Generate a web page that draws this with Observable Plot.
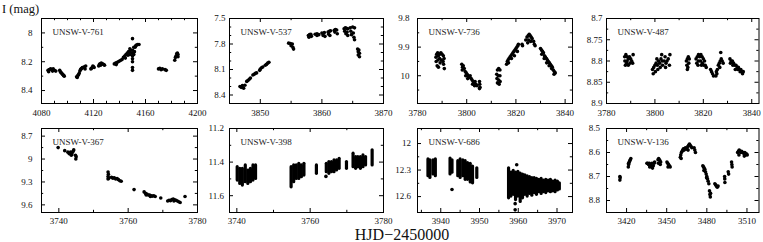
<!DOCTYPE html>
<html><head><meta charset="utf-8">
<script src="https://cdn.jsdelivr.net/npm/d3@7"></script>
<script src="https://cdn.jsdelivr.net/npm/@observablehq/plot@0.6"></script>
<style>
html,body{margin:0;padding:0;background:#fff;}
#wrap{position:relative;width:763px;height:242px;overflow:hidden;font-family:"Liberation Serif","DejaVu Serif",serif;color:#111;}
#ylab{position:absolute;left:2px;top:2.5px;font-size:12.5px;line-height:12.5px;white-space:nowrap;}
#xlab{position:absolute;left:302px;width:200px;text-align:center;top:226.5px;font-size:16px;line-height:15.5px;height:15.5px;white-space:nowrap;}
</style></head><body>
<div id="wrap"><div id="ylab">I (mag)</div><div id="xlab">HJD−2450000</div></div>
<script>
// ---------- data ----------
const names = ["UNSW-V-761","UNSW-V-537","UNSW-V-736","UNSW-V-487","UNSW-V-367","UNSW-V-398","UNSW-V-686","UNSW-V-136"];
const xDomains = [[4080,4200],[3845,3870],[3780,3843],[3780,3843],[3735,3780],[3738,3780],[3934,3974],[3405,3519]];
const yDomains = [[7.9,8.49],[7.5,8.5],[9.8,10.097],[8.7,8.9],[8.6,9.7],[11.2,11.7],[11.83,12.78],[8.5,8.85]];
const xMajor = [[4080,4120,4160,4200],[3850,3860,3870],[3780,3800,3820,3840],[3780,3800,3820,3840],[3740,3760,3780],[3740,3760,3780],[3940,3950,3960,3970],[3420,3450,3480,3510]];
const xMinor = [[4090,4100,4110,4130,4140,4150,4170,4180,4190],[3855,3865],[3790,3810,3830],[3790,3810,3830],[3750,3770],[3750,3770],[3935,3945,3955,3965],[3435,3465,3495]];
const yMajor = [[8,8.2,8.4],[7.5,7.8,8.1,8.4],[9.8,9.9,10],[8.7,8.75,8.8,8.85,8.9],[8.7,9,9.3,9.6],[11.2,11.4,11.6],[12,12.3,12.6],[8.5,8.6,8.7,8.8]];
const yMinor = [[8.1,8.3],[7.6,7.7,7.9,8,8.2,8.3],[9.85,9.95,10.05],[8.725,8.775,8.825,8.875],[8.85,9.15,9.45],[11.3,11.5],[12.15,12.45],[8.55,8.65,8.75]];

const v761 = [[4085,8.26],[4085.5,8.27],[4086,8.255],[4087,8.25],[4088,8.255],[4088.5,8.265],[4089,8.25],[4090,8.26],[4091,8.265],
[4094,8.26],[4094.5,8.27],[4095,8.275],[4095.5,8.28],[4096,8.285],[4096.5,8.29],[4097,8.295],[4097.5,8.30],
[4107,8.305],[4107.5,8.31],[4108,8.295],[4108.5,8.29],
[4109,8.28],[4109.5,8.265],[4110,8.255],[4110.5,8.25],[4111,8.245],[4111.5,8.24],[4112,8.24],[4113,8.235],[4113.5,8.25],[4114,8.23],
[4118,8.25],[4118.5,8.245],[4119,8.24],[4119.5,8.23],[4120,8.235],[4120.5,8.24],
[4124,8.23],[4124.5,8.22],[4125,8.215],[4125.5,8.225],[4126,8.21],[4127,8.215],[4128,8.22],[4128.5,8.225],
[4136,8.215],[4137,8.21],[4137.5,8.22],[4138,8.205],[4139,8.2],[4140,8.195],[4141,8.19],
[4142,8.185],[4143,8.17],[4144,8.16],[4144.5,8.175],[4145,8.15],[4146,8.14],[4146.5,8.155],[4147,8.13],
[4148,8.11],[4148,8.13],[4148,8.15],[4148.5,8.12],
[4150,8.04],[4150,8.12],[4150,8.14],[4150,8.16],[4150,8.18],[4150,8.2],[4150,8.24],[4150,8.26],[4150.5,8.15],
[4151,8.15],[4151,8.1],[4151.5,8.13],[4152,8.1],[4152.5,8.09],[4153,8.085],[4154,8.08],[4155,8.08],
[4170,8.25],[4171,8.245],[4172,8.255],[4173,8.25],[4175,8.255],[4176,8.26],
[4182.5,8.19],[4183,8.17],[4183.5,8.16],[4184,8.145],[4184.5,8.14],[4185,8.15],[4185,8.165]];

const v537 = [[3846.7,8.30],[3846.9,8.31],[3847.1,8.29],[3847.3,8.32],[3847.5,8.285],[3847.8,8.24],[3848.0,8.23],[3848.2,8.215],[3848.4,8.20],
[3848.8,8.165],[3849.0,8.155],[3849.2,8.145],[3849.4,8.14],[3849.9,8.11],[3850.0,8.095],[3850.2,8.08],[3850.4,8.07],
[3850.8,8.05],[3851.0,8.04],[3851.2,8.025],[3851.4,8.015],
[3854.6,7.79],[3854.9,7.795],[3855.2,7.80],[3855.0,7.82],[3855.3,7.84],[3855.4,7.86],
[3857.8,7.70],[3858.0,7.69],[3858.2,7.685],[3857.9,7.72],[3858.3,7.71],
[3858.9,7.685],[3859.2,7.68],[3859.5,7.69],[3859.2,7.70],
[3860.0,7.67],[3860.2,7.68],[3860.4,7.665],[3860.2,7.70],[3860.5,7.71],
[3861.0,7.66],[3861.2,7.65],[3861.4,7.645],[3861.1,7.685],[3861.3,7.70],
[3862.0,7.64],[3862.2,7.63],[3862.4,7.635],[3862.1,7.66],[3862.5,7.68],
[3863.6,7.62],[3863.8,7.61],[3864.0,7.615],[3864.2,7.62],[3863.7,7.65],[3864.1,7.66],[3863.9,7.68],[3864.2,7.70],
[3864.6,7.61],[3865.0,7.60],[3865.3,7.61],[3864.7,7.65],[3865.1,7.67],[3864.8,7.69],[3865.2,7.72],[3865.3,7.75],
[3865.8,7.86],[3866.0,7.87],[3865.9,7.89],[3866.1,7.91],[3865.9,7.93],[3866.1,7.95]];

const v736 = [[3787.5,9.935],[3787.8,9.925],[3788.2,9.92],[3788.5,9.93],[3789,9.925],[3789.5,9.92],[3790,9.925],[3790.5,9.93],
[3787.6,9.95],[3788.3,9.945],[3789.0,9.94],[3789.7,9.945],[3790.4,9.95],[3790.8,9.94],[3788.0,9.965],[3789.2,9.955],[3790.6,9.96],[3788.5,9.97],[3790.9,9.975],
[3798.0,9.96],[3798.3,9.97],[3798.6,9.965],[3798.2,9.98],[3799,9.975],[3799.4,9.985],[3799.8,9.99],[3800.2,9.995],[3800.6,10.0],[3801,10.005],[3801.4,10.0],
[3799.6,10.0],[3800.4,10.01],[3801.8,10.01],[3802.2,10.015],[3802.6,10.02],[3803,10.025],[3803.4,10.02],[3803.8,10.03],[3804.2,10.035],[3802.4,10.03],[3803.2,10.035],
[3805.2,10.02],[3805.3,10.03],[3805.4,10.04],[3805.2,10.045],
[3812.5,9.98],[3813,9.975],[3813.5,9.98],[3812.2,9.995],[3812.8,10.0],[3813.5,10.0],[3812.3,10.01],[3813,10.015],[3813.6,10.02],[3812.5,10.025],[3813.2,10.03],
[3816.2,9.96],[3816.5,9.95],[3816.8,9.945],[3817.2,9.94],[3817.6,9.935],[3818.0,9.93],[3818.4,9.925],[3818.8,9.92],[3819.2,9.915],[3819.6,9.91],[3820.0,9.905],[3820.4,9.90],[3820.8,9.895],[3821.0,9.89],
[3817.0,9.955],[3818.2,9.94],[3819.4,9.93],[3820.6,9.915],
[3822.5,9.89],[3822.7,9.895],[3824,9.875],[3824.5,9.865],[3825,9.86],[3825.4,9.855],[3825.8,9.86],[3826.2,9.865],[3826.6,9.87],[3825.2,9.875],[3826,9.88],[3824.8,9.885],[3827.2,9.88],[3827.5,9.89],[3827.8,9.895],
[3830,9.905],[3830.4,9.91],[3830.8,9.915],[3831.2,9.92],[3831.6,9.93],[3832,9.935],[3832.4,9.94],[3832.8,9.945],[3833.2,9.95],[3833.6,9.955],[3834,9.96],[3834.4,9.965],[3834.8,9.97],[3835.2,9.98],[3835.6,9.985],[3836,9.99],
[3830.5,9.925],[3831.5,9.94],[3832.5,9.955],[3833.5,9.965],[3834.5,9.975],[3835.5,9.995]];

const v487 = [[3787.5,8.79],[3788,8.785],[3788.5,8.79],[3789,8.795],[3789.5,8.79],[3790,8.795],[3787.6,8.80],[3788.3,8.805],[3789,8.81],[3789.7,8.805],[3790.4,8.80],[3790.8,8.805],[3791,8.785],[3788.5,8.80],[3787.8,8.81],
[3799,8.82],[3799.5,8.815],[3800,8.81],[3800.5,8.805],[3801,8.81],[3801.5,8.80],[3802,8.805],[3802.5,8.795],[3803,8.80],[3799.3,8.83],[3800.2,8.825],[3801.2,8.82],[3802.2,8.815],[3803.2,8.81],[3803.8,8.80],[3804.2,8.79],[3804.6,8.805],[3805,8.80],[3805.5,8.795],[3806,8.81],[3806.2,8.785],[3800.8,8.795],[3802.8,8.785],[3804.4,8.815],
[3813,8.80],[3813.4,8.795],[3813.8,8.79],[3814.2,8.795],[3813.2,8.81],[3813.6,8.815],[3814,8.805],[3813.4,8.82],
[3817,8.795],[3817.5,8.79],[3818,8.785],[3818.5,8.79],[3819,8.785],[3819.5,8.79],[3820,8.795],[3820.5,8.80],[3817.3,8.805],[3818,8.80],[3818.8,8.80],[3819.6,8.805],[3820.2,8.81],[3820.8,8.81],[3821.2,8.815],[3817.8,8.81],[3819.2,8.81],
[3823,8.82],[3823.4,8.825],[3823.8,8.83],[3824.2,8.835],
[3825.2,8.835],[3825.4,8.825],[3825.8,8.82],[3826.2,8.81],[3825.6,8.83],[3826.6,8.805],[3827,8.80],[3827.4,8.795],[3827.8,8.80],[3828.2,8.805],[3827.2,8.78],[3826.8,8.815],
[3831,8.795],[3831.5,8.80],[3832,8.80],[3832.5,8.805],[3833,8.81],[3833.5,8.81],[3834,8.815],[3834.5,8.815],[3835,8.82],[3835.5,8.82],[3836,8.825],[3836.5,8.825],[3831.2,8.805],[3832.2,8.81],[3833.2,8.82],[3834.2,8.82],[3835.2,8.825],[3836.2,8.83]];

const v367 = [[3739.8,8.85],[3741.7,8.89],
[3742.6,8.91],[3743.0,8.93],[3743.4,8.91],[3743.8,8.93],[3744.1,8.90],[3744.3,8.88],[3743.6,8.95],
[3744.8,8.95],[3745,8.97],[3744.9,9.0],
[3754.2,9.17],[3754.3,9.2],[3754.2,9.23],[3754.4,9.25],[3754.2,9.26],
[3755.2,9.24],[3755.6,9.25],[3756,9.245],[3756.4,9.26],[3756.8,9.255],[3757.2,9.27],[3757.6,9.285],[3758,9.29],
[3761.7,9.40],
[3764.6,9.43],[3765,9.45],[3765.4,9.46],[3765.8,9.47],[3766.2,9.47],[3766.6,9.48],[3767,9.485],[3767.4,9.48],[3767.8,9.49],[3765.2,9.47],[3766.4,9.49],
[3769.4,9.51],
[3771.4,9.55],[3771.8,9.54],[3772.2,9.545],[3772.6,9.53],[3773,9.525],[3773.4,9.535],[3773.8,9.54],[3774.2,9.55],[3774.6,9.56],[3775,9.57],[3773.2,9.55],
[3776.4,9.49]];

const v398 = [[3764.3,11.485]];
const v398Bars = [[3740.1,11.43,11.51],[3740.8,11.44,11.53],[3741.5,11.44,11.54],[3742.3,11.42,11.52],[3743.0,11.45,11.53],[3743.7,11.44,11.52],[3744.4,11.42,11.51],[3745.1,11.42,11.50],
[3754.8,11.43,11.55],[3755.5,11.42,11.52],[3756.2,11.42,11.50],[3756.9,11.41,11.50],[3757.6,11.42,11.49],[3758.3,11.41,11.48],
[3761.7,11.42,11.47],
[3764.4,11.41,11.46],[3765.1,11.40,11.47],[3765.8,11.40,11.46],[3766.5,11.39,11.46],[3767.2,11.39,11.45],[3767.9,11.38,11.44],
[3769.9,11.40,11.44],
[3771.7,11.35,11.43],[3772.4,11.37,11.44],[3773.0,11.37,11.43],[3773.7,11.37,11.44],[3774.4,11.36,11.43],[3775.1,11.37,11.42],
[3776.9,11.33,11.42]];

const v686 = [[3942.9,12.52],[3959.6,12.24],[3959.2,12.68],[3959.2,12.75]];
const v686Bars = [[3936.7,12.18,12.37],[3937.2,12.19,12.39],[3938.0,12.19,12.35],[3938.6,12.18,12.37],
[3942.4,12.17,12.35],[3942.9,12.19,12.33],
[3944.4,12.20,12.37],[3945.0,12.18,12.39],[3945.7,12.19,12.37],[3946.3,12.20,12.41],[3946.9,12.22,12.41],[3947.6,12.23,12.44],[3948.2,12.26,12.45],
[3949.3,12.28,12.39],
[3957.5,12.28,12.62],[3958.1,12.33,12.60],[3958.7,12.31,12.58],[3959.3,12.33,12.64],[3959.9,12.32,12.60],[3960.5,12.34,12.66],[3961.1,12.35,12.62],
[3961.7,12.36,12.58],[3962.3,12.37,12.60],[3962.9,12.38,12.57],[3963.5,12.39,12.59],[3964.1,12.39,12.56],[3964.7,12.40,12.58],[3965.3,12.41,12.55],
[3965.9,12.40,12.57],[3966.5,12.42,12.55],[3967.1,12.41,12.56],[3967.7,12.42,12.54],[3968.3,12.41,12.55],[3968.9,12.43,12.54],[3969.5,12.42,12.55],
[3970.1,12.43,12.53],[3970.6,12.45,12.52]];

const v136 = [[3415,8.70],[3415,8.715],[3415.2,8.705],
[3421.3,8.66],[3421.6,8.65],[3422,8.64],[3422.4,8.635],[3422.8,8.63],[3423.2,8.625],[3421.5,8.645],
[3435.2,8.645],[3435.8,8.645],[3436.4,8.65],[3437,8.645],[3437.6,8.65],[3438.2,8.655],[3438.8,8.66],[3439.4,8.665],[3440,8.655],[3440.6,8.645],[3441,8.64],[3437.3,8.66],[3439,8.645],
[3443.5,8.63],[3444,8.625],[3444.5,8.63],[3445,8.635],[3445.5,8.64],[3443.8,8.645],[3445.2,8.65],
[3450.2,8.64],[3450.8,8.645],[3451.4,8.65],[3452,8.655],[3452.6,8.66],[3451,8.66],
[3460.2,8.62],[3460.5,8.61],[3461,8.60],[3461.5,8.595],[3462,8.59],[3462.5,8.585],[3463,8.59],[3463.5,8.585],[3464,8.58],[3464.5,8.585],[3460.8,8.625],
[3465.2,8.585],[3465.8,8.575],[3466.4,8.57],[3467,8.565],[3467.6,8.57],[3468.2,8.575],[3468.8,8.58],[3466,8.59],
[3470.5,8.58],[3471,8.59],[3471.5,8.60],
[3477,8.655],[3477.5,8.66],[3478,8.665],[3478.5,8.67],[3479,8.68],[3479.5,8.69],[3480,8.70],[3480.5,8.71],[3481,8.72],[3481.5,8.73],[3477.8,8.675],[3479.8,8.705],
[3482,8.76],[3482.3,8.775],[3482.6,8.785],[3482.8,8.77],
[3486,8.73],[3486.6,8.735],[3487.2,8.74],[3487.8,8.745],[3488.4,8.74],
[3493.3,8.70],[3493.4,8.71],[3493.5,8.725],
[3496,8.68],[3496.3,8.69],
[3498.5,8.64],[3498.7,8.65],[3498.9,8.66],
[3503,8.60],[3503.6,8.595],[3504.2,8.59],[3504.8,8.595],[3505.4,8.60],[3506,8.595],[3506.6,8.60],[3507.2,8.60],[3507.8,8.605],[3508.4,8.60],[3509,8.61],[3509.6,8.605],[3510.2,8.61],[3504,8.61],[3508,8.615]];

const points = [v761, v537, v736, v487, v367, v398, v686, v136];
const bars = [[], [], [], [], [], v398Bars, v686Bars, []];

// ---------- layout ----------
const colX = [[41,197],[229,383],[417,572],[606,758.5]];
const rowY = [[17.5,102.5],[128,212]];
const yPad = [9,4,8,4,9,5.5,6.5,6.5];
const xPad = [6,5];
const fmt = d => String(d);

const wrap = document.getElementById("wrap");
for (let i = 0; i < 8; i++) {
  const [fl, fr] = colX[i % 4];
  const row = Math.floor(i / 4);
  const [ft, fb] = rowY[row];
  const fw = fr - fl, fh = fb - ft;
  const mL = 40, mR = 14, mT = 8, mB = 24;
  const maj = 4, mnr = 2.2;
  const svg = Plot.plot({
    width: fw + mL + mR, height: fh + mT + mB,
    marginLeft: mL, marginRight: mR, marginTop: mT, marginBottom: mB,
    x: {domain: xDomains[i]},
    y: {domain: yDomains[i], reverse: true},
    style: {background: "transparent", overflow: "visible", maxWidth: "none", fontFamily: "Liberation Serif, DejaVu Serif, serif", fontSize: "9px", color: "#111"},
    marks: [
      Plot.ruleX(bars[i], {x: d => d[0], y1: d => d[1], y2: d => d[2], stroke: "#000", strokeWidth: 3.2, strokeLinecap: "round"}),
      Plot.dot(points[i], {x: d => d[0], y: d => d[1], r: 1.8, fill: "#000", stroke: "none"}),
      Plot.frame({stroke: "#000", strokeWidth: 1}),
      Plot.tickX(xMajor[i], {x: d => d, insetTop: fh - maj, stroke: "#000"}),
      Plot.tickX(xMajor[i], {x: d => d, insetBottom: fh - maj, stroke: "#000"}),
      Plot.tickX(xMinor[i], {x: d => d, insetTop: fh - mnr, stroke: "#000"}),
      Plot.tickX(xMinor[i], {x: d => d, insetBottom: fh - mnr, stroke: "#000"}),
      Plot.tickY(yMajor[i], {y: d => d, insetRight: fw - maj, stroke: "#000"}),
      Plot.tickY(yMajor[i], {y: d => d, insetLeft: fw - maj, stroke: "#000"}),
      Plot.tickY(yMinor[i], {y: d => d, insetRight: fw - mnr, stroke: "#000"}),
      Plot.tickY(yMinor[i], {y: d => d, insetLeft: fw - mnr, stroke: "#000"}),
      Plot.axisX(xMajor[i], {anchor: "bottom", tickSize: 0, tickPadding: xPad[row], tickFormat: fmt, fontSize: 9, label: null}),
      Plot.axisY(yMajor[i], {anchor: "left", tickSize: 0, tickPadding: yPad[i], tickFormat: fmt, fontSize: 9, label: null}),
      Plot.text([names[i]], {text: d => d, frameAnchor: "top-left", dx: 11, dy: 14, textAnchor: "start", lineAnchor: "middle", fontSize: 9, fill: "#222"})
    ]
  });
  svg.style.position = "absolute";
  svg.style.left = (fl - mL) + "px";
  svg.style.top = (ft - mT) + "px";
  wrap.appendChild(svg);
}
</script>
</body></html>
